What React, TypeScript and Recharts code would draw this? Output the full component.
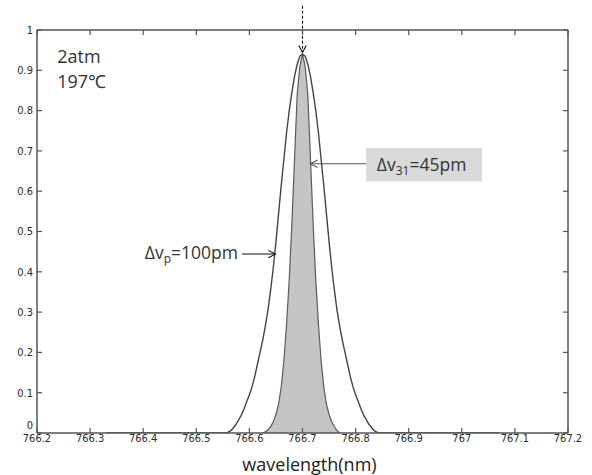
import React from 'react';
import {
  ComposedChart,
  Line,
  Area,
  XAxis,
  YAxis,
  ReferenceLine,
  ReferenceDot,
  ReferenceArea,
} from 'recharts';

// wavelength samples (nm)
const wavelengths = [
  766.33, 766.4, 766.5, 766.55,
  766.555, 766.56, 766.565, 766.57, 766.575, 766.58, 766.585, 766.59, 766.595, 766.6,
  766.605, 766.61, 766.615, 766.62, 766.625, 766.63, 766.635, 766.64, 766.645, 766.65,
  766.655, 766.66, 766.665, 766.67, 766.675, 766.68, 766.685, 766.69, 766.695, 766.7,
  766.705, 766.71, 766.715, 766.72, 766.725, 766.73, 766.735, 766.74, 766.745, 766.75,
  766.755, 766.76, 766.765, 766.77, 766.775, 766.78, 766.785, 766.79, 766.795, 766.8,
  766.805, 766.81, 766.815, 766.82, 766.825, 766.83, 766.835, 766.84, 766.845,
  766.85, 766.9, 767.0, 767.07,
];

// broad profile (Δv_p = 100 pm)
const pumpProfile = [
  0, 0, 0, 0,
  0, 0.002, 0.006, 0.013, 0.022, 0.033, 0.045, 0.06, 0.078, 0.095,
  0.115, 0.14, 0.17, 0.2, 0.23, 0.265, 0.305, 0.355, 0.41, 0.475,
  0.545, 0.615, 0.68, 0.745, 0.8, 0.845, 0.885, 0.915, 0.935, 0.94,
  0.935, 0.915, 0.885, 0.845, 0.8, 0.745, 0.68, 0.615, 0.545, 0.475,
  0.41, 0.355, 0.305, 0.265, 0.23, 0.2, 0.17, 0.14, 0.115, 0.095,
  0.078, 0.06, 0.045, 0.033, 0.022, 0.013, 0.006, 0.002, 0,
  0, 0, 0, 0,
];

// narrow profile (Δv_31 = 45 pm)
const absorptionProfile: (number | null)[] = [
  null, null, null, null,
  null, null, null, null, null, null, null, null, null, null,
  null, null, null, null, 0, 0.003, 0.008, 0.016, 0.028, 0.046,
  0.072, 0.115, 0.18, 0.27, 0.38, 0.52, 0.68, 0.84, 0.91, 0.94,
  0.91, 0.84, 0.68, 0.52, 0.38, 0.27, 0.18, 0.115, 0.072, 0.046,
  0.028, 0.016, 0.006, 0, null, null, null, null, null, null,
  null, null, null, null, null, null, null, null, null,
  null, null, null, null,
];

const xTicks = [766.2, 766.3, 766.4, 766.5, 766.6, 766.7, 766.8, 766.9, 767, 767.1, 767.2];
const yTicks = [0, 0.1, 0.2, 0.3, 0.4, 0.5, 0.6, 0.7, 0.8, 0.9, 1];

const rows = wavelengths.map((x, i) => ({
  x,
  pump: pumpProfile[i],
  abs: absorptionProfile[i],
}));

const AXIS = '#555';
const TICK_FONT = "'Liberation Sans Narrow', 'DejaVu Sans Condensed', 'Arial Narrow', sans-serif";
const TEXT_FONT = "'Open Sans', 'Noto Sans', sans-serif";

const BottomTick = (props: any) => {
  const { x, y, payload } = props;
  return (
    <g>
      <line x1={x} y1={y - 1} x2={x} y2={y - 6} stroke={AXIS} strokeWidth={1.2} />
      <text x={x} y={y} dy="0.75em" textAnchor="middle" fontFamily={TICK_FONT} fontSize={11} fill="#2a2a2a">
        {payload.value}
      </text>
    </g>
  );
};

const LeftTick = (props: any) => {
  const { x, y, payload } = props;
  const lift = payload.value === 0 ? -8 : 0;
  return (
    <g>
      <line x1={x + 3} y1={y} x2={x + 8} y2={y} stroke={AXIS} strokeWidth={1.2} />
      <text x={x - 1} y={y + lift} dy="0.35em" textAnchor="end" fontFamily={TICK_FONT} fontSize={11} fill="#2a2a2a">
        {payload.value}
      </text>
    </g>
  );
};

const TopTick = (props: any) => {
  const { x, y } = props;
  return <line x1={x} y1={y} x2={x} y2={y + 5} stroke={AXIS} strokeWidth={1.2} />;
};

const RightTick = (props: any) => {
  const { x, y } = props;
  return <line x1={x - 5} y1={y} x2={x} y2={y} stroke={AXIS} strokeWidth={1.2} />;
};

const makeArrow = (color: string, dash?: string) => (props: any) => {
  const { x1, y1, x2, y2 } = props;
  const ang = Math.atan2(y2 - y1, x2 - x1);
  const len = 8;
  const spread = 0.48;
  const ax = x2 - len * Math.cos(ang - spread);
  const ay = y2 - len * Math.sin(ang - spread);
  const bx = x2 - len * Math.cos(ang + spread);
  const by = y2 - len * Math.sin(ang + spread);
  return (
    <g>
      <line x1={x1} y1={y1} x2={x2} y2={y2} stroke={color} strokeWidth={1.1} strokeDasharray={dash} />
      <polyline points={`${ax},${ay} ${x2},${y2} ${bx},${by}`} fill="none" stroke={color} strokeWidth={1.1} />
    </g>
  );
};

const textShape = (content: React.ReactNode, size = 18) => (props: any) => (
  <text x={props.cx} y={props.cy} fontFamily={TEXT_FONT} fontSize={size} fill="#333">
    {content}
  </text>
);

export default function App() {
  return (
    <div style={{ position: 'absolute', left: 0, top: 0, width: 592, height: 475, background: '#fff' }}>
      <ComposedChart
        width={592}
        height={475}
        data={rows}
        margin={{ top: 0, right: 0, bottom: 0, left: 0 }}
      >
        <XAxis
          xAxisId="b"
          dataKey="x"
          type="number"
          domain={[766.2, 767.2]}
          ticks={xTicks}
          interval={0}
          height={42}
          tickSize={0}
          tickMargin={1}
          tickLine={false}
          tick={BottomTick}
          axisLine={{ stroke: AXIS, strokeWidth: 1.5 }}
          allowDataOverflow
          label={(p: any) => {
            const vb = p.viewBox;
            return (
              <text
                x={vb.x + vb.width / 2 + 7}
                y={vb.y + vb.height - 4}
                textAnchor="middle"
                fontFamily={TEXT_FONT}
                fontSize={18}
                fill="#222"
              >
                wavelength(nm)
              </text>
            );
          }}
        />
        <XAxis
          xAxisId="t"
          orientation="top"
          type="number"
          dataKey="x"
          domain={[766.2, 767.2]}
          ticks={xTicks}
          interval={0}
          height={30}
          tickSize={0}
          tickMargin={0}
          tickLine={false}
          tick={TopTick}
          axisLine={{ stroke: AXIS, strokeWidth: 1.5 }}
          allowDataOverflow
        />
        <YAxis
          yAxisId="l"
          type="number"
          domain={[0, 1]}
          ticks={yTicks}
          interval={0}
          width={37}
          tickSize={0}
          tickMargin={3}
          tickLine={false}
          tick={LeftTick}
          axisLine={{ stroke: AXIS, strokeWidth: 1.5 }}
          allowDataOverflow
        />
        <YAxis
          yAxisId="r"
          orientation="right"
          type="number"
          domain={[0, 1]}
          ticks={yTicks}
          interval={0}
          width={24}
          tickSize={0}
          tickMargin={0}
          tickLine={false}
          tick={RightTick}
          axisLine={{ stroke: AXIS, strokeWidth: 1.5 }}
          allowDataOverflow
        />

        <ReferenceArea
          xAxisId="b"
          yAxisId="l"
          x1={766.82}
          x2={767.038}
          y1={0.625}
          y2={0.707}
          fill="#d9d9d9"
          fillOpacity={1}
          stroke="none"
        />

        <Area
          xAxisId="b"
          yAxisId="l"
          type="linear"
          dataKey="abs"
          stroke="#5a5a5a"
          strokeWidth={1.2}
          fill="#c4c4c4"
          fillOpacity={1}
          dot={false}
          activeDot={false}
          isAnimationActive={false}
        />
        <Line
          xAxisId="b"
          yAxisId="l"
          type="linear"
          dataKey="pump"
          stroke="#444"
          strokeWidth={1.4}
          dot={false}
          activeDot={false}
          isAnimationActive={false}
        />

        <ReferenceLine
          xAxisId="b"
          yAxisId="l"
          ifOverflow="visible"
          segment={[{ x: 766.7, y: 1.06 }, { x: 766.7, y: 0.944 }]}
          shape={makeArrow('#111', '3 2')}
        />
        <ReferenceLine
          xAxisId="b"
          yAxisId="l"
          segment={[{ x: 766.586, y: 0.444 }, { x: 766.649, y: 0.444 }]}
          shape={makeArrow('#111')}
        />
        <ReferenceLine
          xAxisId="b"
          yAxisId="l"
          segment={[{ x: 766.82, y: 0.668 }, { x: 766.715, y: 0.668 }]}
          shape={makeArrow('#555')}
        />

        <ReferenceDot xAxisId="b" yAxisId="l" x={766.238} y={0.918} r={0} shape={textShape('2atm')} />
        <ReferenceDot xAxisId="b" yAxisId="l" x={766.238} y={0.856} r={0} shape={textShape('197℃')} />
        <ReferenceDot
          xAxisId="b"
          yAxisId="l"
          x={766.403}
          y={0.432}
          r={0}
          shape={textShape(
            <>
              <tspan>Δv</tspan>
              <tspan dy={4} fontSize={12}>p</tspan>
              <tspan dy={-4}>=100pm</tspan>
            </>,
            17.5,
          )}
        />
        <ReferenceDot
          xAxisId="b"
          yAxisId="l"
          x={766.84}
          y={0.651}
          r={0}
          shape={textShape(
            <>
              <tspan>Δv</tspan>
              <tspan dy={4} fontSize={12}>31</tspan>
              <tspan dy={-4}>=45pm</tspan>
            </>,
            17.5,
          )}
        />
      </ComposedChart>
    </div>
  );
}
